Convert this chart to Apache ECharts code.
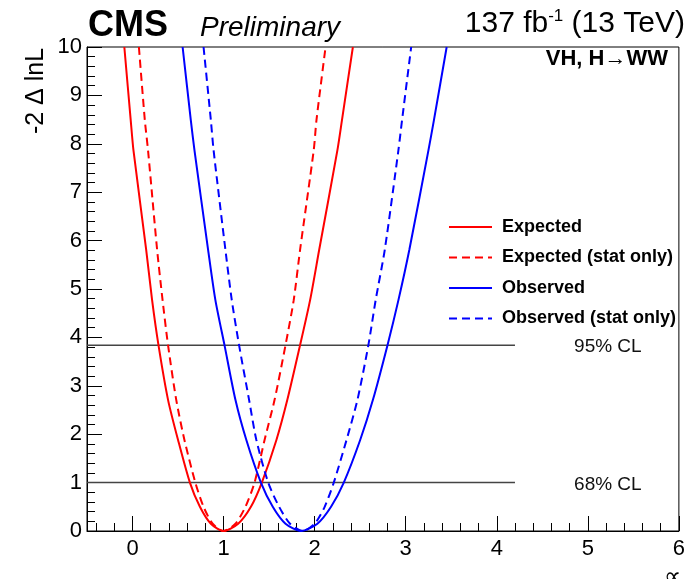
<!DOCTYPE html>
<html>
<head>
<meta charset="utf-8">
<title>VH, H→WW likelihood scan</title>
<script src="https://cdn.jsdelivr.net/npm/echarts@6/dist/echarts.min.js"></script>
<style>
  html, body { margin: 0; padding: 0; background: #fff; }
  #chart { width: 688px; height: 579px; }
</style>
</head>
<body>
<div id="chart"></div>
<script>
// likelihood scans: [x, -2 delta lnL]
const expected = [
  [-0.09, 10], [-0.02, 8.49], [0.01, 7.87], [0.15, 5.81], [0.215, 4.77], [0.285, 3.84],
  [0.39, 2.71], [0.50, 1.88], [0.63, 1], [0.74, 0.5], [0.86, 0.15], [1.0, 0],
  [1.16, 0.15], [1.30, 0.5], [1.42, 1], [1.58, 1.88], [1.70, 2.71], [1.84, 3.84],
  [1.95, 4.77], [2.05, 5.81], [2.25, 7.87], [2.30, 8.49], [2.42, 10]
]
const expectedStat = [
  [0.07, 10], [0.135, 8.49], [0.17, 7.87], [0.27, 5.81], [0.33, 4.77], [0.39, 3.84],
  [0.48, 2.71], [0.57, 1.88], [0.69, 1], [0.78, 0.5], [0.88, 0.15], [1.0, 0],
  [1.13, 0.15], [1.24, 0.5], [1.34, 1], [1.45, 1.88], [1.56, 2.71], [1.68, 3.84],
  [1.77, 4.77], [1.84, 5.81], [1.99, 7.87], [2.02, 8.49], [2.12, 10]
]
const observed = [
  [0.55, 10], [0.64, 8.49], [0.68, 7.87], [0.83, 5.81], [0.91, 4.77], [1.01, 3.84],
  [1.13, 2.71], [1.25, 1.88], [1.41, 1], [1.54, 0.5], [1.68, 0.15], [1.85, 0],
  [2.03, 0.15], [2.18, 0.5], [2.32, 1], [2.50, 1.88], [2.64, 2.71], [2.80, 3.84],
  [2.92, 4.77], [3.04, 5.81], [3.25, 7.87], [3.31, 8.49], [3.45, 10]
]
const observedStat = [
  [0.78, 10], [0.86, 8.49], [0.89, 7.87], [1.02, 5.81], [1.09, 4.77], [1.17, 3.84],
  [1.28, 2.71], [1.36, 1.88], [1.49, 1], [1.61, 0.5], [1.73, 0.15], [1.87, 0],
  [2.00, 0.15], [2.11, 0.5], [2.21, 1], [2.35, 1.88], [2.47, 2.71], [2.59, 3.84],
  [2.67, 4.77], [2.77, 5.81], [2.92, 7.87], [2.96, 8.49], [3.06, 10]
]

// confidence level lines
const clLevels = [1, 3.84]
const clNames = ['68% CL', '95% CL']
const clLineStart = -0.5
const clLineEnd = 4.2
const clLabelX = 5.22

// axis ticks
const xMajorTicks = [0, 1, 2, 3, 4, 5, 6]
const xMinorTicks = [-0.4, -0.2, 0.2, 0.4, 0.6, 0.8, 1.2, 1.4, 1.6, 1.8, 2.2, 2.4, 2.6, 2.8,
  3.2, 3.4, 3.6, 3.8, 4.2, 4.4, 4.6, 4.8, 5.2, 5.4, 5.6, 5.8]

const FONT = 'Liberation Sans, Arial, Helvetica, sans-serif'
const RED = '#ff0000'
const BLUE = '#0000ff'

const chart = echarts.init(document.getElementById('chart'))

function scan(name, data, color, dashed) {
  return {
    name: name,
    type: 'line',
    data: data,
    smooth: 0.25,
    symbol: 'none',
    silent: true,
    lineStyle: { color: color, width: 2, type: dashed ? [8, 5] : 'solid' },
    itemStyle: { color: color },
    z: 5
  }
}

const clSeries = []
clLevels.forEach((lvl, i) => {
  clSeries.push({
    type: 'line',
    data: [[clLineStart, lvl], [clLineEnd, lvl]],
    symbol: 'none',
    silent: true,
    lineStyle: { color: '#444', width: 1.5 },
    z: 2
  })
  clSeries.push({
    type: 'scatter',
    data: [[clLabelX, lvl, clNames[i]]],
    symbolSize: 0,
    silent: true,
    itemStyle: { opacity: 1 },
    label: {
      show: true,
      position: 'inside',
      formatter: p => p.value[2],
      color: '#111',
      fontSize: 19,
      fontFamily: FONT,
      offset: [0, 2]
    }
  })
})

chart.setOption({
  animation: false,
  backgroundColor: '#fff',
  grid: {
    left: 87, right: 2, top: 47, bottom: 48,
    show: true, borderColor: '#000', borderWidth: 1, backgroundColor: 'transparent'
  },
  legend: {
    orient: 'vertical',
    left: 443,
    top: 213,
    itemWidth: 43,
    itemHeight: 14,
    itemGap: 12.5,
    itemStyle: { opacity: 0 },
    data: ['Expected', 'Expected (stat only)', 'Observed', 'Observed (stat only)'],
    textStyle: {
      fontFamily: FONT, fontWeight: 'bold', fontSize: 18, lineHeight: 16,
      color: '#000', padding: [0, 0, 0, 5]
    }
  },
  xAxis: [
    {
      type: 'value',
      min: -0.5,
      max: 6,
      axisLine: { show: true, onZero: false, lineStyle: { color: '#000', width: 1 } },
      axisTick: { show: true, inside: true, length: 15, customValues: xMajorTicks, lineStyle: { color: '#000' } },
      axisLabel: { customValues: xMajorTicks, fontSize: 22, fontFamily: FONT, color: '#000', margin: 7 },
      splitLine: { show: false }
    },
    {
      type: 'value',
      min: -0.5,
      max: 6,
      position: 'bottom',
      axisLine: { show: false },
      axisTick: { show: true, inside: true, length: 8, customValues: xMinorTicks, lineStyle: { color: '#000' } },
      axisLabel: { show: false },
      splitLine: { show: false }
    }
  ],
  yAxis: {
    type: 'value',
    min: 0,
    max: 10,
    interval: 1,
    axisLine: { show: true, onZero: false, lineStyle: { color: '#000', width: 1 } },
    axisTick: { show: true, inside: true, length: 15, lineStyle: { color: '#000' } },
    minorTick: { show: true, splitNumber: 5, length: 8, lineStyle: { color: '#000' } },
    axisLabel: { fontSize: 22, fontFamily: FONT, color: '#000', margin: 5 },
    splitLine: { show: false }
  },
  graphic: [
    { type: 'text', left: 88, top: 8, style: { text: 'CMS', font: 'bold 36px ' + FONT, fill: '#000' } },
    { type: 'text', left: 200, top: 14, style: { text: 'Preliminary', font: 'italic 28px ' + FONT, fill: '#000' } },
    {
      type: 'text', right: 3, top: 8,
      style: {
        text: '{a|137 fb}{s|-1}{a| (13 TeV)}',
        rich: {
          a: { font: '30px ' + FONT, fill: '#000', verticalAlign: 'bottom' },
          s: { font: '17px ' + FONT, fill: '#000', padding: [0, 0, 14, 0], verticalAlign: 'bottom' }
        }
      }
    },
    { type: 'text', right: 20, top: 48, style: { text: 'VH, H→WW', font: 'bold 22px ' + FONT, fill: '#000' } },
    {
      type: 'text', x: 36, y: 91, rotation: Math.PI / 2,
      style: { text: '-2 Δ lnL', font: '25px ' + FONT, fill: '#000', align: 'center', verticalAlign: 'middle' }
    },
    { type: 'text', left: 664, top: 565, style: { text: '∝', font: '24px ' + FONT, fill: '#000' } }
  ],
  series: [
    ...clSeries,
    scan('Expected', expected, RED, false),
    scan('Expected (stat only)', expectedStat, RED, true),
    scan('Observed', observed, BLUE, false),
    scan('Observed (stat only)', observedStat, BLUE, true)
  ]
})
</script>
</body>
</html>
